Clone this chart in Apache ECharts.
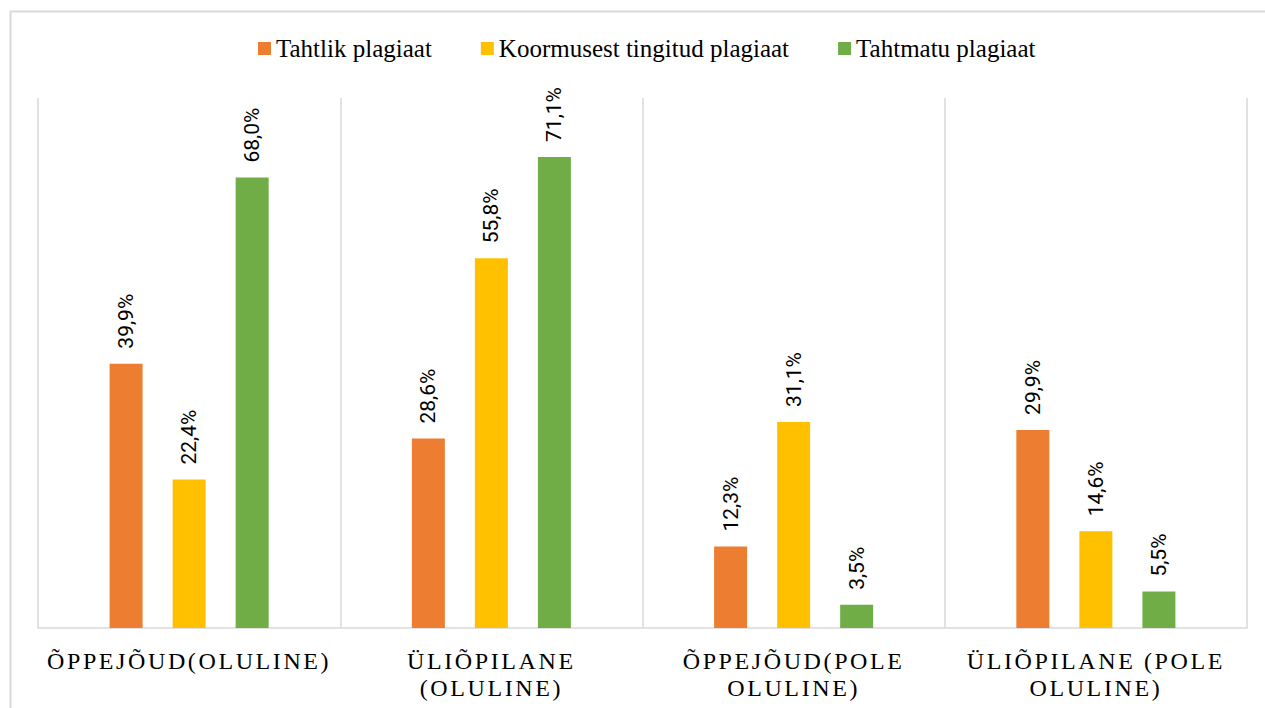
<!DOCTYPE html>
<html>
<head>
<meta charset="utf-8">
<script src="https://cdn.jsdelivr.net/npm/echarts@6/dist/echarts.min.js"></script>
<style>
  html, body { margin: 0; padding: 0; background: #fff; }
  #chart { width: 1265px; height: 708px; }
  /* axis labels are spaced out like in the original */
  #chart svg text[style*="24px"] { letter-spacing: 2.6px; }
</style>
</head>
<body>
<div id="chart"></div>
<script>
let categories = ['ÕPPEJÕUD(OLULINE)', 'ÜLIÕPILANE\n(OLULINE)', 'ÕPPEJÕUD(POLE\nOLULINE)', 'ÜLIÕPILANE (POLE\nOLULINE)']
let seriesNames = ['Tahtlik plagiaat', 'Koormusest tingitud plagiaat', 'Tahtmatu plagiaat']
let tahtlik = [39.9, 28.6, 12.3, 29.9]
let koormusest = [22.4, 55.8, 31.1, 14.6]
let tahtmatu = [68.0, 71.1, 3.5, 5.5]
let colors = ['#ED7D31', '#FFC000', '#70AD47']

let chart = echarts.init(document.getElementById('chart'), null, { renderer: 'svg' })

function makeSeries (name, data, color) {
  return {
    name: name,
    type: 'bar',
    data: data,
    barWidth: 33,
    barGap: '91%',
    itemStyle: { color: color },
    label: {
      show: true,
      position: 'top',
      rotate: 90,
      align: 'left',
      verticalAlign: 'middle',
      distance: 15,
      color: '#000',
      fontFamily: 'Roboto',
      fontSize: 21,
      formatter: function (p) {
        return p.value.toFixed(1).replace('.', ',') + '%'
      }
    }
  }
}

let option = {
  animation: false,
  color: colors,
  graphic: [{
    type: 'rect',
    left: 8,
    top: 9,
    shape: { width: 1400, height: 800 },
    style: { fill: 'none', stroke: '#D9D9D9', lineWidth: 2 },
    silent: true
  }],
  legend: {
    top: 31,
    left: 253,
    itemWidth: 13,
    itemHeight: 13,
    itemGap: 49,
    icon: 'rect',
    textStyle: {
      fontFamily: 'Liberation Serif',
      fontSize: 25,
      color: '#000'
    },
    data: seriesNames
  },
  grid: {
    left: 38,
    right: 18,
    top: 98,
    bottom: 80
  },
  xAxis: {
    type: 'category',
    data: categories,
    axisTick: { show: false },
    axisLine: { lineStyle: { color: '#D9D9D9', width: 1.5 } },
    splitLine: { show: true, lineStyle: { color: '#D9D9D9', width: 1.5 } },
    axisLabel: {
      margin: 19,
      fontFamily: 'Liberation Serif',
      fontSize: 24,
      lineHeight: 27,
      color: '#000',
      interval: 0
    }
  },
  yAxis: {
    type: 'value',
    min: 0,
    max: 80,
    show: false,
    splitLine: { show: false }
  },
  series: [
    makeSeries(seriesNames[0], tahtlik, colors[0]),
    makeSeries(seriesNames[1], koormusest, colors[1]),
    makeSeries(seriesNames[2], tahtmatu, colors[2])
  ]
}

chart.setOption(option)
</script>
</body>
</html>
